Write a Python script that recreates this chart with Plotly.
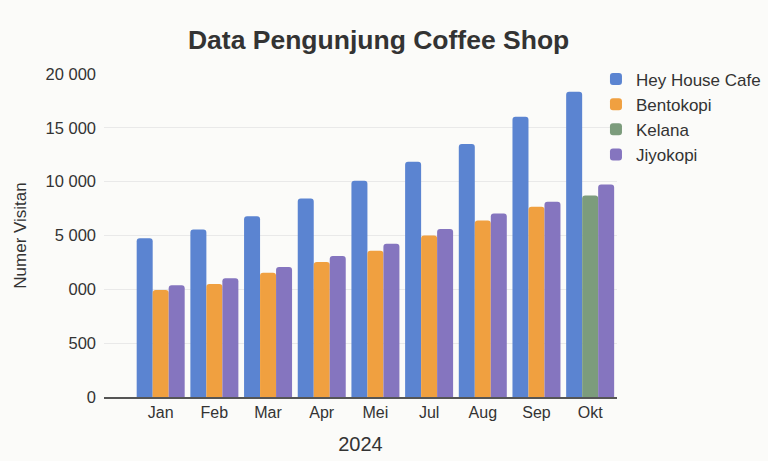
import plotly.graph_objects as go

months = ["Jan", "Feb", "Mar", "Apr", "Mei", "Jul", "Aug", "Sep", "Okt"]
hey_house = [14750, 15550, 16790, 18430, 20080, 21850, 23500, 26040, 28340]
bentokopi = [9930, 10490, 11540, 12540, 13590, 14990, 16390, 17660, None]
kelana = [None, None, None, None, None, None, None, None, 18710]
jiyokopi = [10370, 11020, 12070, 13100, 14240, 15610, 17040, 18130, 19740]

y_tickvals = [0, 5000, 10000, 15000, 20000, 25000, 30000]
y_ticktext = ["0", "500", "000", "5 000", "10 000", "15 000", "20 000"]

FONT = "Liberation Sans, Arial, sans-serif"
TXT = "#333333"

fig = go.Figure()
fig.add_trace(go.Bar(name="Hey House Cafe", x=months, y=hey_house,
                     marker_color="#5b84d1", offsetgroup="a"))
fig.add_trace(go.Bar(name="Bentokopi", x=months, y=bentokopi,
                     marker_color="#f0a040", offsetgroup="b"))
fig.add_trace(go.Bar(name="Kelana", x=months, y=kelana,
                     marker_color="#7c9c7c", offsetgroup="b"))
fig.add_trace(go.Bar(name="Jiyokopi", x=months, y=jiyokopi,
                     marker_color="#8575bf", offsetgroup="c"))

fig.update_traces(marker_line_width=0)

fig.update_layout(
    width=768, height=461,
    margin=dict(l=104, r=151, t=74, b=64, autoexpand=False),
    paper_bgcolor="#fbfbf9", plot_bgcolor="#fbfbf9",
    barmode="group", bargap=0.106, bargroupgap=0, barcornerradius=3,
    font=dict(family=FONT, color=TXT),
    title=dict(text="Data Pengunjung Coffee Shop", x=0.493, xanchor="center",
               y=1 - 40 / 461, yanchor="middle",
               font=dict(family=FONT, size=26.5, color=TXT, weight=600)),
    legend=dict(x=0.959, xanchor="left", y=1.0385, yanchor="top",
                font=dict(family=FONT, size=17, color=TXT),
                bgcolor="rgba(0,0,0,0)"),
    showlegend=True,
)

fig.update_xaxes(
    type="category", range=[-1.056, 8.5],
    showgrid=False, showline=True, linecolor="#555555", linewidth=1.5,
    ticks="", tickfont=dict(family=FONT, size=16, color=TXT),
    title=dict(text="2024", font=dict(family=FONT, size=20, color=TXT), standoff=17),
    zeroline=False,
)
fig.update_yaxes(
    range=[0, 30000], tickvals=y_tickvals, ticktext=y_ticktext,
    showgrid=True, gridcolor="#e9e9e9", gridwidth=1,
    zeroline=False, showline=False, ticks="", ticklabelstandoff=7,
    tickfont=dict(family=FONT, size=16.5, color=TXT),
    title=dict(text="Numer Visitan", font=dict(family=FONT, size=17, color=TXT), standoff=14),
)

fig.write_html("out.html")
